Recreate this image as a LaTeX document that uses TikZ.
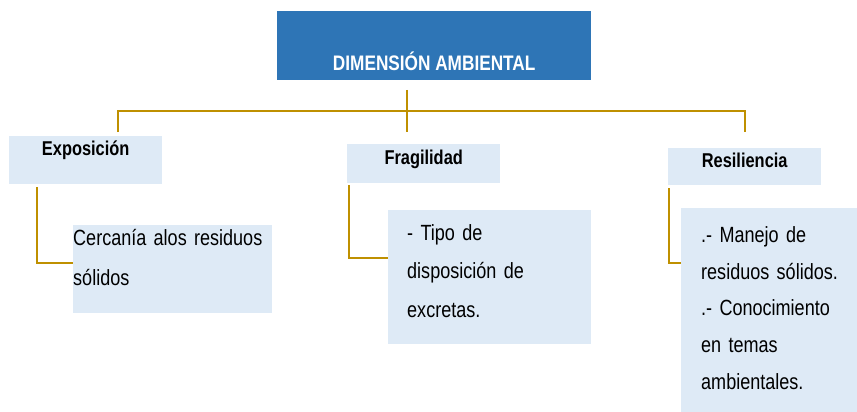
\documentclass[tikz,border=0pt]{standalone}
\usepackage{fontspec}
\setmainfont{Liberation Sans}[FakeStretch=0.82]
\usepackage{tikz}
\definecolor{dimblue}{HTML}{2E75B6}
\definecolor{boxblue}{HTML}{DEEAF6}
\definecolor{linkgold}{HTML}{BF9000}

\begin{document}
\begin{tikzpicture}[x=1pt,y=-1pt,
		head/.style={fill=boxblue,anchor=north west,inner sep=0pt,minimum width=153pt,font=\bfseries\fontsize{20}{24}\selectfont},
		item/.style={fill=boxblue,anchor=north west,inner ysep=0pt,align=left,font=\fontsize{22}{38.5}\selectfont},
		link/.style={draw=linkgold,line width=2.6pt}]
	\useasboundingbox (0,0) rectangle (857,412);
	%% define boxes
	\node (dim) at (277,11) [anchor=north west,fill=dimblue,text=white,inner sep=0pt,minimum width=314pt,text height=59pt,text depth=10pt,font=\bfseries\fontsize{21}{24}\selectfont] {DIMENSIÓN AMBIENTAL};
	\node (expo) at (9,136) [head,text height=19pt,text depth=29pt] {Exposición};
	\node (frag) at (347,144) [head,text height=20pt,text depth=19pt] {Fragilidad};
	\node (resi) at (668,148) [head,text height=19pt,text depth=18pt] {Resiliencia};
	\node (expoind) at (73,225) [item,inner xsep=0pt,text width=199pt,text height=20pt,text depth=68pt,font=\fontsize{22}{40}\selectfont] {Cercanía alos residuos\\sólidos};
	\node (fragind) at (388,210) [item,inner xsep=19pt,text width=165pt,text height=30pt,text depth=104pt] {- Tipo de\\disposición de\\excretas.};
	\node (resiind) at (681,208) [item,inner xsep=20pt,text width=150pt,text height=34pt,text depth=172pt,font=\fontsize{22}{36.8}\selectfont] {.- Manejo de\\residuos sólidos.\\.- Conocimiento\\en temas\\ambientales.};
	%% define link ends
	\coordinate (dimx) at (407,90);
	\coordinate (hub) at (407,111);
	\coordinate (busl) at (118,111);
	\coordinate (busr) at (745,111);
	\coordinate (expox) at (118,132);
	\coordinate (fragx) at (407,132);
	\coordinate (resix) at (745,132);
	\coordinate (expo0) at (37,187);
	\coordinate (expo1) at (73,263);
	\coordinate (frag0) at (349,185);
	\coordinate (frag1) at (388,258);
	\coordinate (resi0) at (669,188);
	\coordinate (resi1) at (681,263);
	%% define links
	\draw[link] (dimx) -- (hub) -- (fragx);
	\draw[link] (expox) -- (busl) -- (busr) -- (resix);
	\draw[link] (expo0) |- (expo1);
	\draw[link] (frag0) |- (frag1);
	\draw[link] (resi0) |- (resi1);
\end{tikzpicture}
\end{document}
